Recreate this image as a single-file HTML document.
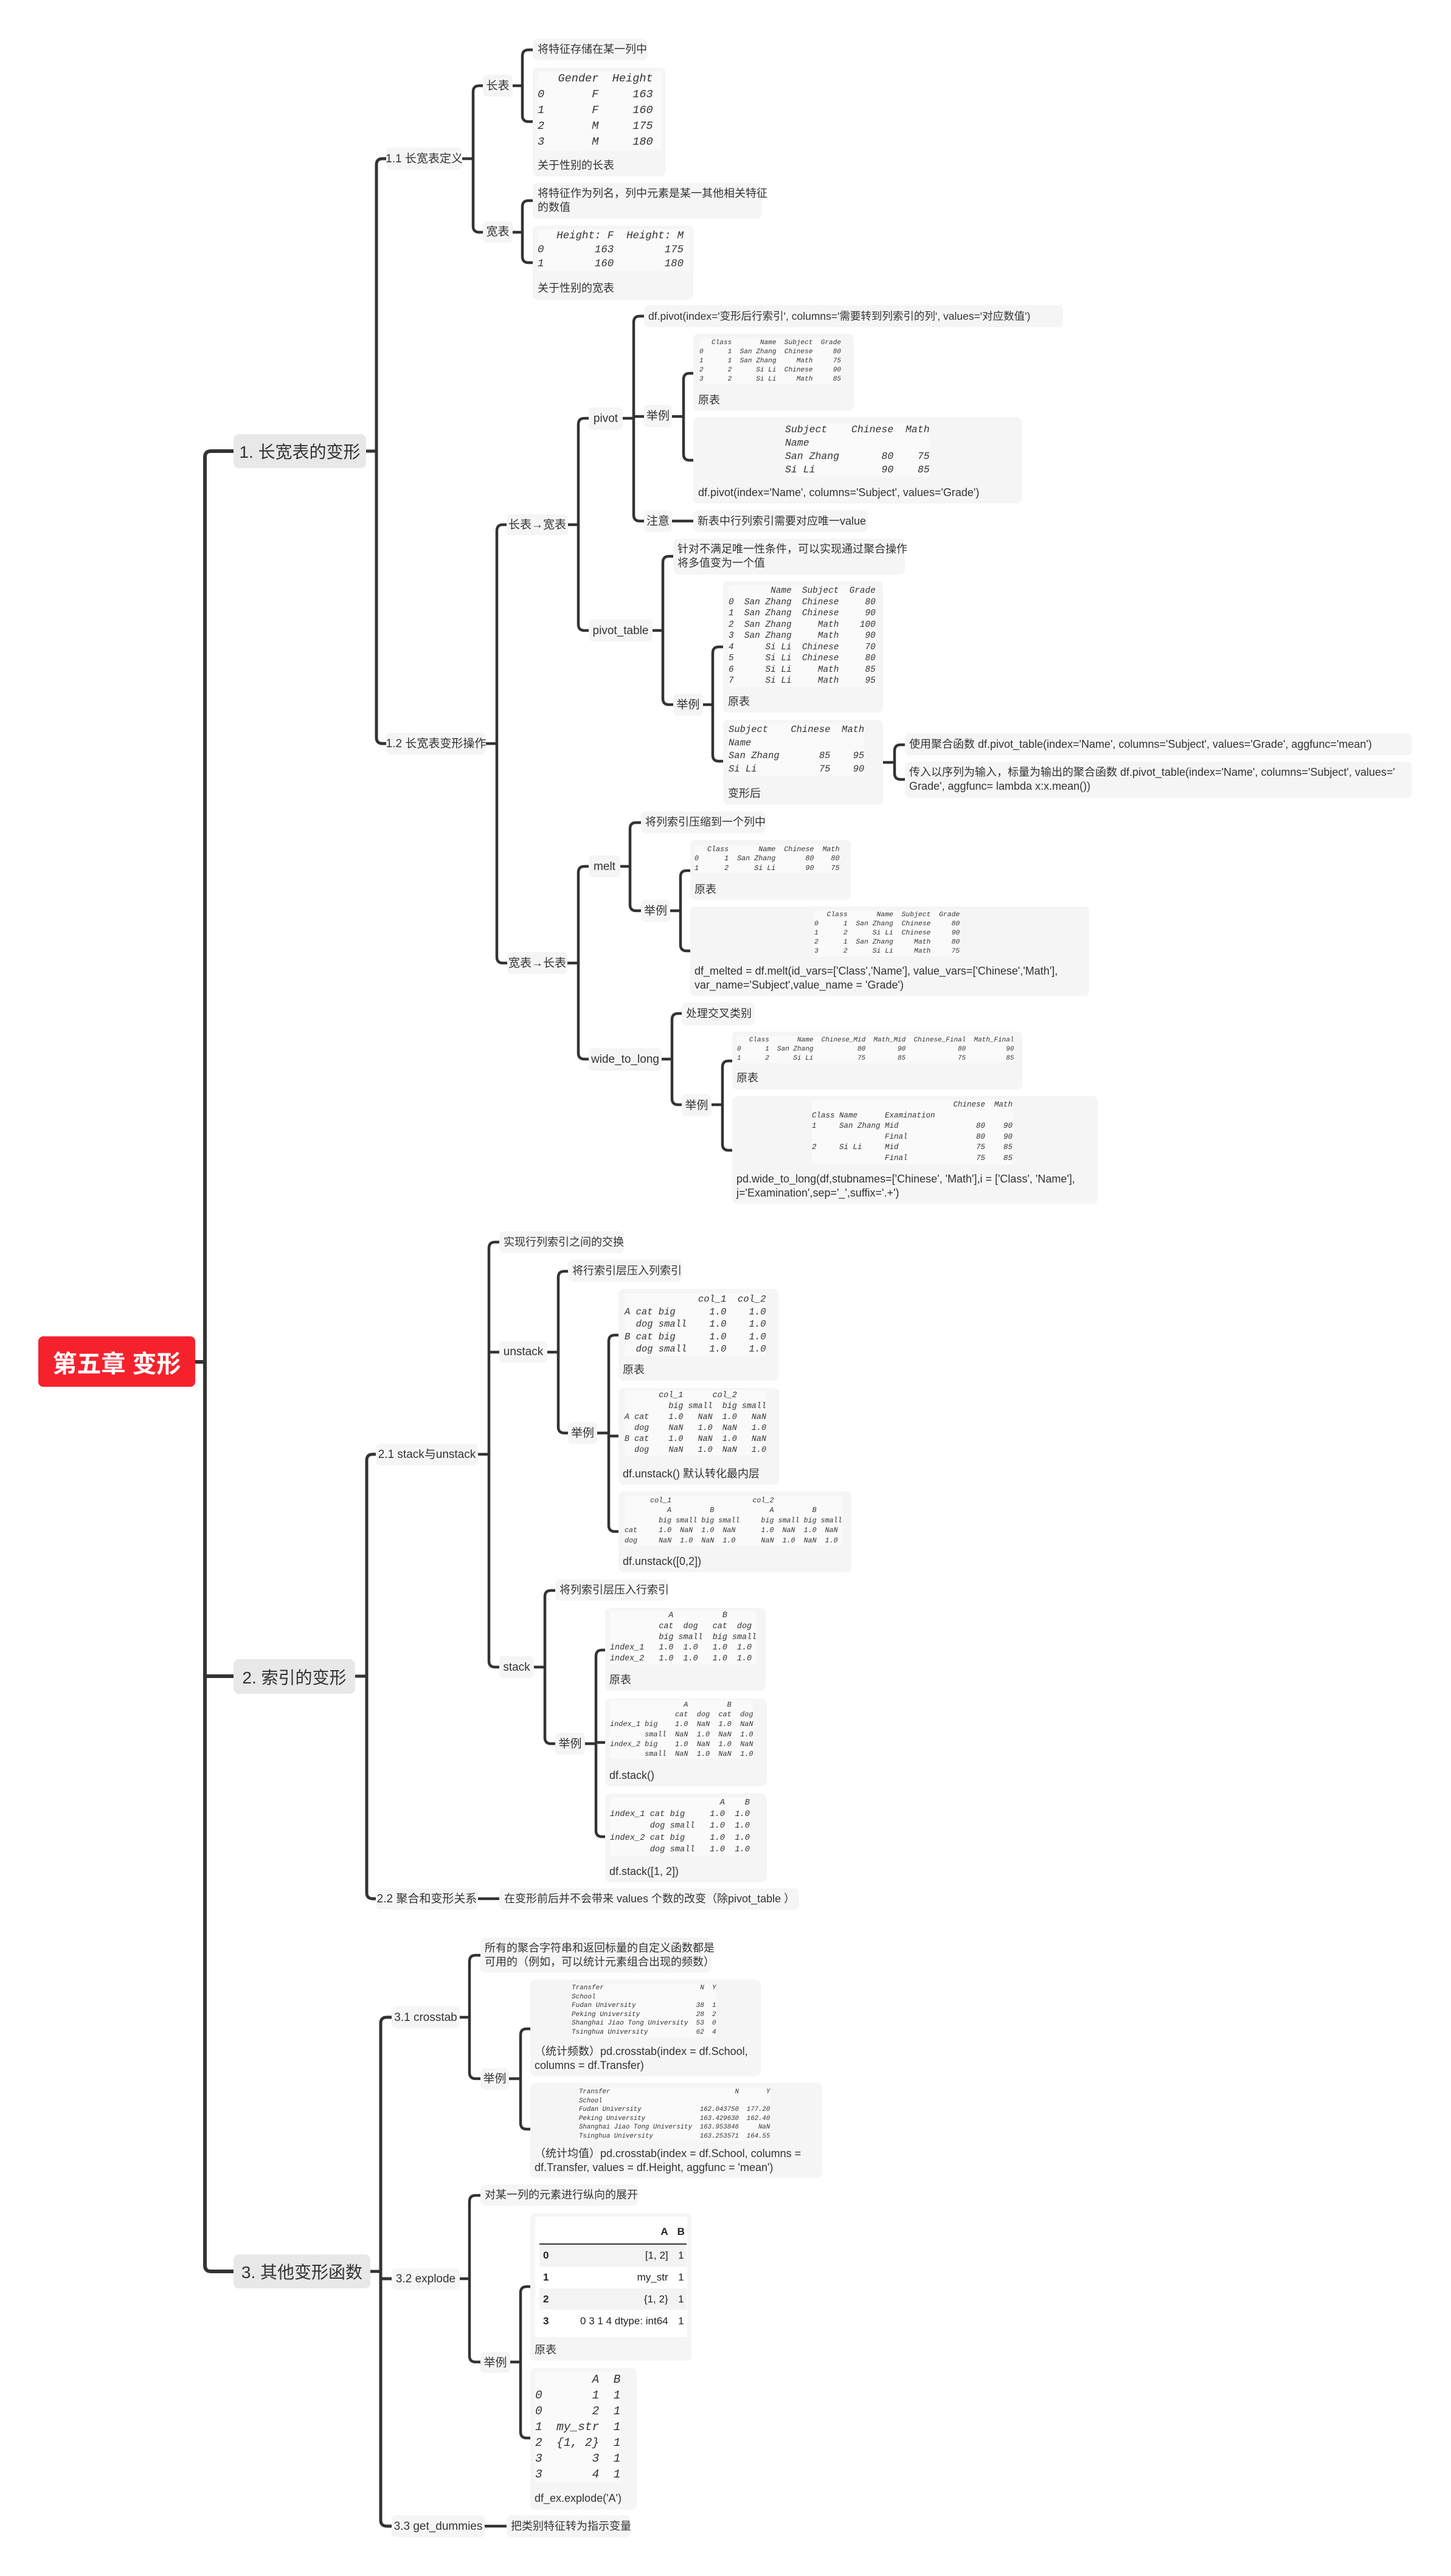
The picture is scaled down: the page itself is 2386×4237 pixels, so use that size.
<!DOCTYPE html>
<html><head><meta charset="utf-8">
<style>
html,body{margin:0;padding:0;background:#fff;}
body{width:2386px;height:4237px;position:relative;overflow:hidden;font-family:"Liberation Sans","Noto Sans CJK SC",sans-serif;color:#333;}
.n{position:absolute;background:#f5f5f5;border-radius:7px;font-size:19px;line-height:1;display:flex;align-items:center;justify-content:center;white-space:nowrap;}
.s{position:absolute;background:#e8e8e8;border-radius:9px;font-size:28px;display:flex;align-items:center;justify-content:center;white-space:nowrap;color:#333;}
.b{position:absolute;background:#f5f5f5;border-radius:8px;}
.t{position:absolute;font-size:18px;line-height:23px;white-space:nowrap;}
pre{position:absolute;margin:0;font-family:"Liberation Mono",monospace;font-style:italic;color:#333;background:#fafafa;}
svg{position:absolute;left:0;top:0;}
</style></head><body>
<svg id="cn" width="2386" height="4237"></svg>

<div style="position:absolute;left:63px;top:2198px;width:258px;height:83px;background:#f5222d;border-radius:8px;color:#fff;font-weight:bold;font-size:40px;display:flex;align-items:center;justify-content:center;">第五章 变形</div>

<div class="s" style="left:384px;top:714px;width:218px;height:56px;">1. 长宽表的变形</div>
<div class="s" style="left:384px;top:2729px;width:200px;height:57px;">2. 索引的变形</div>
<div class="s" style="left:384px;top:3708px;width:225px;height:56px;">3. 其他变形函数</div>

<!-- section 1 -->
<div class="n" style="left:635px;top:243px;width:125px;height:36px;">1.1 长宽表定义</div>
<div class="n" style="left:794px;top:123px;width:49px;height:36px;">长表</div>
<div class="n" style="left:794px;top:364px;width:49px;height:35px;">宽表</div>
<div class="b" style="left:876px;top:64px;width:189px;height:35px;"><div class="t" style="left:8px;top:6px;">将特征存储在某一列中</div></div>
<div class="b" style="left:876px;top:111px;width:218px;height:179px;"></div>
<pre style="left:884px;top:117px;font-size:18.6px;line-height:26px;width:204px;">   Gender  Height
0       F     163
1       F     160
2       M     175
3       M     180</pre>
<div class="t" style="left:884px;top:261px;">关于性别的长表</div>
<div class="b" style="left:876px;top:301px;width:376px;height:59px;"><div class="t" style="left:8px;top:6px;line-height:23px;">将特征作为列名，列中元素是某一其他相关特征<br>的数值</div></div>
<div class="b" style="left:876px;top:371px;width:264px;height:122px;"></div>
<pre style="left:884px;top:377px;font-size:17.4px;line-height:23px;width:250px;">   Height: F  Height: M
0        163        175
1        160        180</pre>
<div class="t" style="left:884px;top:463px;">关于性别的宽表</div>

<div class="n" style="left:635px;top:1205px;width:164px;height:36px;">1.2 长宽表变形操作</div>
<div class="n" style="left:833px;top:846px;width:101px;height:34px;">长表→宽表</div>
<div class="n" style="left:968px;top:670px;width:56px;height:37px;">pivot</div>
<div class="b" style="left:1059px;top:502px;width:689px;height:36px;"><div class="t" style="left:7px;top:7px;font-size:17.5px;">df.pivot(index='变形后行索引', columns='需要转到列索引的列', values='对应数值')</div></div>
<div class="n" style="left:1059px;top:666px;width:46px;height:37px;">举例</div>
<div class="n" style="left:1059px;top:839px;width:46px;height:36px;">注意</div>
<div class="b" style="left:1140px;top:839px;width:287px;height:36px;"><div class="t" style="left:7px;top:7px;">新表中行列索引需要对应唯一value</div></div>
<div class="b" style="left:1140px;top:549px;width:264px;height:127px;"></div>
<pre style="left:1150px;top:557px;font-size:11.1px;line-height:15px;">   Class       Name  Subject  Grade
0      1  San Zhang  Chinese     80
1      1  San Zhang     Math     75
2      2      Si Li  Chinese     90
3      2      Si Li     Math     85</pre>
<div class="t" style="left:1148px;top:647px;">原表</div>
<div class="b" style="left:1140px;top:686px;width:540px;height:142px;"></div>
<pre style="left:1291px;top:696px;font-size:16.5px;line-height:22px;">Subject    Chinese  Math
Name
San Zhang       80    75
Si Li           90    85</pre>
<div class="t" style="left:1148px;top:799px;">df.pivot(index='Name', columns='Subject', values='Grade')</div>

<div class="n" style="left:968px;top:1019px;width:105px;height:36px;">pivot_table</div>
<div class="b" style="left:1107px;top:886px;width:381px;height:59px;"><div class="t" style="left:7px;top:6px;">针对不满足唯一性条件，可以实现通过聚合操作<br>将多值变为一个值</div></div>
<div class="n" style="left:1107px;top:1141px;width:49px;height:36px;">举例</div>
<div class="b" style="left:1189px;top:956px;width:263px;height:216px;"></div>
<pre style="left:1198px;top:963px;font-size:14.4px;line-height:18.5px;">        Name  Subject  Grade
0  San Zhang  Chinese     80
1  San Zhang  Chinese     90
2  San Zhang     Math    100
3  San Zhang     Math     90
4      Si Li  Chinese     70
5      Si Li  Chinese     80
6      Si Li     Math     85
7      Si Li     Math     95</pre>
<div class="t" style="left:1197px;top:1143px;">原表</div>
<div class="b" style="left:1189px;top:1184px;width:263px;height:140px;"></div>
<pre style="left:1198px;top:1190px;font-size:15.5px;line-height:21.5px;">Subject    Chinese  Math
Name
San Zhang       85    95
Si Li           75    90</pre>
<div class="t" style="left:1197px;top:1294px;">变形后</div>
<div class="b" style="left:1488px;top:1206px;width:834px;height:36px;"><div class="t" style="left:7px;top:7px;">使用聚合函数 df.pivot_table(index='Name', columns='Subject', values='Grade', aggfunc='mean')</div></div>
<div class="b" style="left:1488px;top:1253px;width:834px;height:59px;"><div class="t" style="left:7px;top:6px;">传入以序列为输入，标量为输出的聚合函数 df.pivot_table(index='Name', columns='Subject', values='<br>Grade', aggfunc= lambda x:x.mean())</div></div>

<div class="n" style="left:834px;top:1566px;width:99px;height:36px;">宽表→长表</div>
<div class="n" style="left:968px;top:1407px;width:52px;height:36px;">melt</div>
<div class="n" style="left:968px;top:1724px;width:120px;height:37px;">wide_to_long</div>
<div class="b" style="left:1054px;top:1335px;width:205px;height:35px;"><div class="t" style="left:7px;top:6px;">将列索引压缩到一个列中</div></div>
<div class="n" style="left:1054px;top:1480px;width:48px;height:36px;">举例</div>
<div class="b" style="left:1135px;top:1382px;width:264px;height:98px;"></div>
<pre style="left:1142px;top:1390px;font-size:11.7px;line-height:15.3px;">   Class       Name  Chinese  Math
0      1  San Zhang       80    80
1      2      Si Li       90    75</pre>
<div class="t" style="left:1142px;top:1452px;">原表</div>
<div class="b" style="left:1135px;top:1491px;width:656px;height:147px;"></div>
<pre style="left:1339px;top:1498px;font-size:11.4px;line-height:15px;">   Class       Name  Subject  Grade
0      1  San Zhang  Chinese     80
1      2      Si Li  Chinese     90
2      1  San Zhang     Math     80
3      2      Si Li     Math     75</pre>
<div class="t" style="left:1142px;top:1586px;">df_melted = df.melt(id_vars=['Class','Name'], value_vars=['Chinese','Math'],<br>var_name='Subject',value_name = 'Grade')</div>
<div class="b" style="left:1121px;top:1649px;width:120px;height:37px;"><div class="t" style="left:7px;top:7px;">处理交叉类别</div></div>
<div class="n" style="left:1121px;top:1800px;width:49px;height:36px;">举例</div>
<div class="b" style="left:1204px;top:1697px;width:477px;height:95px;"></div>
<pre style="left:1212px;top:1704px;font-size:11px;line-height:15px;">   Class       Name  Chinese_Mid  Math_Mid  Chinese_Final  Math_Final
0      1  San Zhang           80        90             80          90
1      2      Si Li           75        85             75          85</pre>
<div class="t" style="left:1211px;top:1762px;">原表</div>
<div class="b" style="left:1204px;top:1803px;width:601px;height:177px;"></div>
<pre style="left:1335px;top:1809px;font-size:12.5px;line-height:17.6px;">                               Chinese  Math
Class Name      Examination
1     San Zhang Mid                 80    90
                Final               80    90
2     Si Li     Mid                 75    85
                Final               75    85</pre>
<div class="t" style="left:1211px;top:1928px;">pd.wide_to_long(df,stubnames=['Chinese', 'Math'],i = ['Class', 'Name'],<br>j='Examination',sep='_',suffix='.+')</div>

<!-- section 2 -->
<div class="n" style="left:618px;top:2375px;width:168px;height:35px;">2.1 stack与unstack</div>
<div class="b" style="left:821px;top:2025px;width:205px;height:36px;"><div class="t" style="left:7px;top:7px;">实现行列索引之间的交换</div></div>
<div class="n" style="left:821px;top:2206px;width:79px;height:35px;">unstack</div>
<div class="n" style="left:821px;top:2724px;width:57px;height:36px;">stack</div>
<div class="b" style="left:934px;top:2072px;width:188px;height:36px;"><div class="t" style="left:7px;top:7px;">将行索引层压入列索引</div></div>
<div class="n" style="left:934px;top:2339px;width:48px;height:36px;">举例</div>
<div class="b" style="left:1017px;top:2120px;width:263px;height:151px;"></div>
<pre style="left:1027px;top:2127px;font-size:15.5px;line-height:20.5px;">             col_1  col_2
A cat big      1.0    1.0
  dog small    1.0    1.0
B cat big      1.0    1.0
  dog small    1.0    1.0</pre>
<div class="t" style="left:1024px;top:2242px;">原表</div>
<div class="b" style="left:1017px;top:2283px;width:264px;height:159px;"></div>
<pre style="left:1027px;top:2287px;font-size:13.4px;line-height:17.9px;">       col_1      col_2
         big small  big small
A cat    1.0   NaN  1.0   NaN
  dog    NaN   1.0  NaN   1.0
B cat    1.0   NaN  1.0   NaN
  dog    NaN   1.0  NaN   1.0</pre>
<div class="t" style="left:1024px;top:2413px;">df.unstack() 默认转化最内层</div>
<div class="b" style="left:1017px;top:2453px;width:383px;height:133px;"></div>
<pre style="left:1027px;top:2460px;font-size:11.7px;line-height:16.4px;">      col_1                   col_2
          A         B             A         B
        big small big small     big small big small
cat     1.0  NaN  1.0  NaN      1.0  NaN  1.0  NaN
dog     NaN  1.0  NaN  1.0      NaN  1.0  NaN  1.0</pre>
<div class="t" style="left:1024px;top:2557px;">df.unstack([0,2])</div>
<div class="b" style="left:913px;top:2598px;width:187px;height:35px;"><div class="t" style="left:7px;top:6px;">将列索引层压入行索引</div></div>
<div class="n" style="left:913px;top:2850px;width:49px;height:36px;">举例</div>
<div class="b" style="left:995px;top:2645px;width:264px;height:136px;"></div>
<pre style="left:1003px;top:2649px;font-size:13.4px;line-height:17.8px;">            A          B
          cat  dog   cat  dog
          big small  big small
index_1   1.0  1.0   1.0  1.0
index_2   1.0  1.0   1.0  1.0</pre>
<div class="t" style="left:1002px;top:2752px;">原表</div>
<div class="b" style="left:995px;top:2794px;width:266px;height:144px;"></div>
<pre style="left:1003px;top:2796px;font-size:11.9px;line-height:16.2px;">                 A         B
               cat  dog  cat  dog
index_1 big    1.0  NaN  1.0  NaN
        small  NaN  1.0  NaN  1.0
index_2 big    1.0  NaN  1.0  NaN
        small  NaN  1.0  NaN  1.0</pre>
<div class="t" style="left:1002px;top:2909px;">df.stack()</div>
<div class="b" style="left:995px;top:2950px;width:266px;height:146px;"></div>
<pre style="left:1003px;top:2956px;font-size:13.7px;line-height:19.2px;">                      A    B
index_1 cat big     1.0  1.0
        dog small   1.0  1.0
index_2 cat big     1.0  1.0
        dog small   1.0  1.0</pre>
<div class="t" style="left:1002px;top:3067px;">df.stack([1, 2])</div>
<div class="n" style="left:618px;top:3106px;width:168px;height:35px;">2.2 聚合和变形关系</div>
<div class="b" style="left:821px;top:3106px;width:493px;height:35px;"><div class="t" style="left:8px;top:6px;">在变形前后并不会带来 values 个数的改变（除pivot_table ）</div></div>

<!-- section 3 -->
<div class="n" style="left:644px;top:3300px;width:112px;height:36px;">3.1 crosstab</div>
<div class="n" style="left:644px;top:3731px;width:112px;height:35px;">3.2 explode</div>
<div class="n" style="left:644px;top:4137px;width:153px;height:36px;">3.3 get_dummies</div>
<div class="b" style="left:790px;top:3187px;width:380px;height:58px;"><div class="t" style="left:7px;top:6px;">所有的聚合字符串和返回标量的自定义函数都是<br>可用的（例如，可以统计元素组合出现的频数）</div></div>
<div class="n" style="left:790px;top:3402px;width:47px;height:35px;">举例</div>
<div class="b" style="left:872px;top:3256px;width:379px;height:159px;"></div>
<pre style="left:940px;top:3263px;font-size:11px;line-height:14.6px;">Transfer                        N  Y
School
Fudan University               38  1
Peking University              28  2
Shanghai Jiao Tong University  53  0
Tsinghua University            62  4</pre>
<div class="t" style="left:879px;top:3363px;">（统计频数）pd.crosstab(index = df.School,<br>columns = df.Transfer)</div>
<div class="b" style="left:872px;top:3426px;width:480px;height:156px;"></div>
<pre style="left:952px;top:3434px;font-size:10.7px;line-height:14.5px;">Transfer                                N       Y
School
Fudan University               162.043750  177.20
Peking University              163.429630  162.40
Shanghai Jiao Tong University  163.953846     NaN
Tsinghua University            163.253571  164.55</pre>
<div class="t" style="left:879px;top:3531px;">（统计均值）pd.crosstab(index = df.School, columns =<br>df.Transfer, values = df.Height, aggfunc = 'mean')</div>
<div class="b" style="left:790px;top:3593px;width:259px;height:35px;"><div class="t" style="left:7px;top:6px;">对某一列的元素进行纵向的展开</div></div>
<div class="n" style="left:790px;top:3869px;width:49px;height:34px;">举例</div>
<div class="b" style="left:872px;top:3640px;width:265px;height:243px;"></div>
<div style="position:absolute;left:880px;top:3646px;width:250px;height:198px;background:#fff;"></div>
<table style="position:absolute;left:887px;top:3651px;width:242px;border-collapse:collapse;font-size:17px;font-family:'Liberation Sans',sans-serif;color:#222;">
<tr style="height:40px;border-bottom:2px solid #333;font-weight:bold;"><td></td><td style="text-align:right;padding-right:12px;">A</td><td style="text-align:center;">B</td></tr>
<tr style="height:37px;background:#f3f3f3;"><td style="font-weight:bold;padding-left:6px;">0</td><td style="text-align:right;padding-right:12px;">[1, 2]</td><td style="text-align:center;">1</td></tr>
<tr style="height:36px;"><td style="font-weight:bold;padding-left:6px;">1</td><td style="text-align:right;padding-right:12px;">my_str</td><td style="text-align:center;">1</td></tr>
<tr style="height:35px;background:#f3f3f3;"><td style="font-weight:bold;padding-left:6px;">2</td><td style="text-align:right;padding-right:12px;">{1, 2}</td><td style="text-align:center;">1</td></tr>
<tr style="height:38px;"><td style="font-weight:bold;padding-left:6px;">3</td><td style="text-align:right;padding-right:12px;">0 3 1 4 dtype: int64</td><td style="text-align:center;">1</td></tr>
</table>
<div class="t" style="left:879px;top:3854px;">原表</div>
<div class="b" style="left:872px;top:3895px;width:175px;height:233px;"></div>
<pre style="left:880px;top:3901px;font-size:19.5px;line-height:26px;">        A  B
0       1  1
0       2  1
1  my_str  1
2  {1, 2}  1
3       3  1
3       4  1</pre>
<div class="t" style="left:879px;top:4098px;">df_ex.explode('A')</div>
<div class="b" style="left:833px;top:4137px;width:204px;height:36px;"><div class="t" style="left:7px;top:7px;">把类别特征转为指示变量</div></div>

<script>
var B=[
[321,2240,337,[[384,742],[384,2757],[384,3736]],6],
[602,742,619,[[635,261],[635,1223]],5],
[760,261,778,[[794,141],[794,382]],4.5],
[843,141,859,[[876,82],[876,200]],4.5],
[843,382,859,[[876,330],[876,432]],4.5],
[799,1223,817,[[833,863],[834,1584]],4.5],
[934,863,951,[[968,688],[968,1037]],4.5],
[1024,688,1042,[[1059,520],[1059,685],[1059,857]],4.5],
[1105,685,1124,[[1140,614],[1140,757]],4.5],
[1105,857,1140,[],4.5],
[1073,1037,1090,[[1107,915],[1107,1159]],4.5],
[1156,1159,1172,[[1189,1064],[1189,1252]],4.5],
[1452,1254,1471,[[1488,1225],[1488,1282]],4.5],
[933,1584,951,[[968,1425],[968,1742]],4.5],
[1020,1425,1036,[[1054,1353],[1054,1498]],4.5],
[1102,1498,1119,[[1135,1432],[1135,1564]],4.5],
[1088,1742,1105,[[1121,1667],[1121,1817]],4.5],
[1170,1817,1188,[[1204,1745],[1204,1892]],4.5],
[584,2757,603,[[618,2392],[618,3123]],5],
[786,2392,804,[[821,2043],[821,2224],[821,2742]],4.5],
[900,2224,918,[[934,2091],[934,2357]],4.5],
[982,2357,1001,[[1017,2196],[1017,2362],[1017,2519]],4.5],
[878,2742,896,[[913,2616],[913,2868]],4.5],
[962,2868,980,[[995,2714],[995,2866],[995,3021]],4.5],
[786,3123,821,[],4.5],
[609,3736,626,[[644,3318],[644,3748],[644,4155]],5],
[756,3318,772,[[790,3216],[790,3419]],4.5],
[837,3419,856,[[872,3337],[872,3502]],4.5],
[756,3748,772,[[790,3611],[790,3885]],4.5],
[839,3885,856,[[872,3761],[872,4010]],4.5],
[797,4155,833,[],4.5]
];
var s='';
B.forEach(function(b){
 var px=b[0],py=b[1],vx=b[2],c=b[3],w=b[4],r=10,d='M'+px+' '+py+'H'+vx;
 if(c.length){
  var t=c[0],e=c[c.length-1];
  d+='M'+t[0]+' '+t[1]+'H'+(vx+r)+'Q'+vx+' '+t[1]+' '+vx+' '+(t[1]+r)+'V'+(e[1]-r)+'Q'+vx+' '+e[1]+' '+(vx+r)+' '+e[1]+'H'+e[0];
  for(var i=1;i<c.length-1;i++)d+='M'+vx+' '+c[i][1]+'H'+c[i][0];
 }
 s+='<path d="'+d+'" fill="none" stroke="#333" stroke-width="'+w+'"/>';
});
document.getElementById('cn').innerHTML=s;
</script>
</body></html>
